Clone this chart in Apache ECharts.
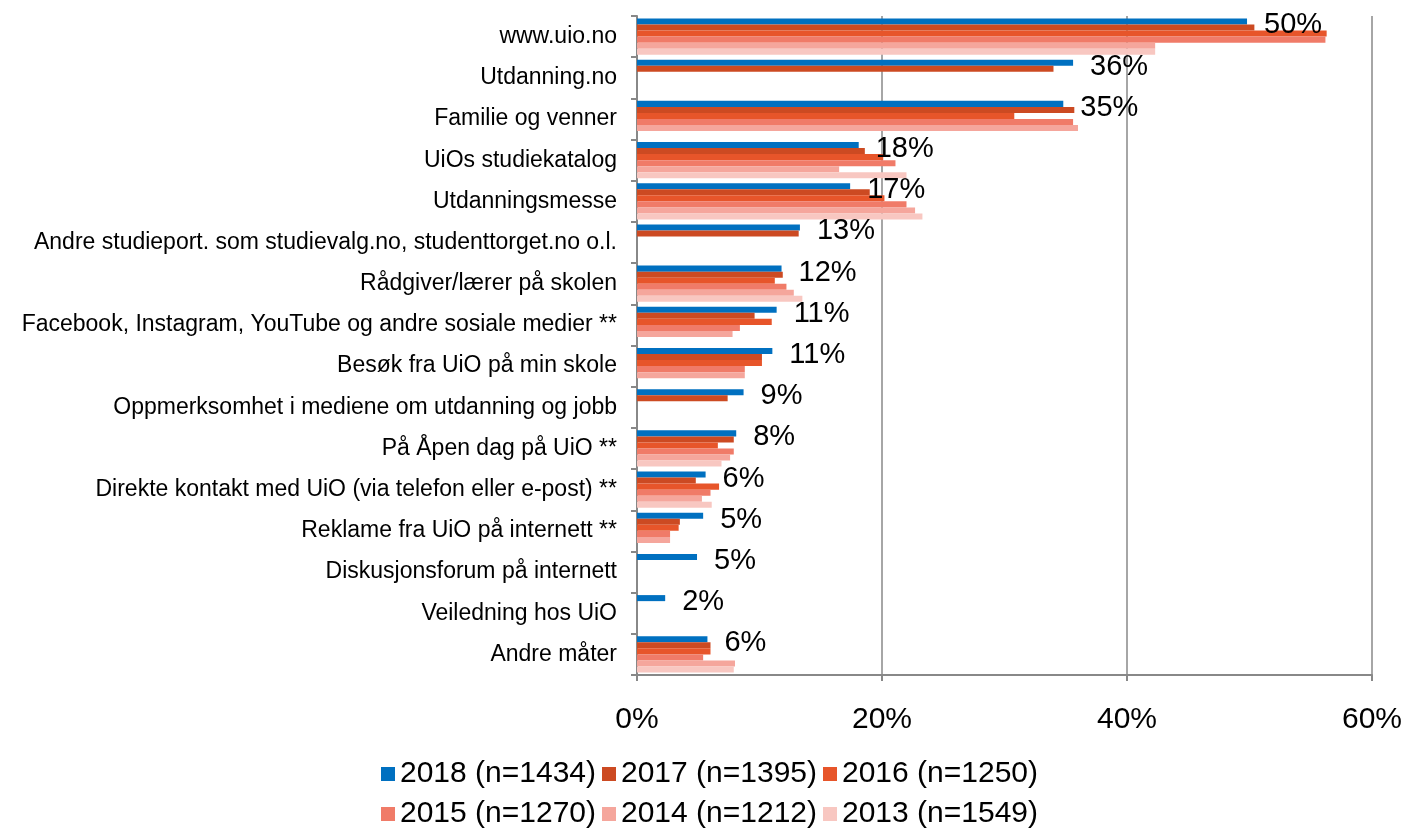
<!DOCTYPE html>
<html lang="no">
<head>
<meta charset="UTF-8">
<title>Informasjonskilder</title>
<script src="https://cdn.jsdelivr.net/npm/echarts@6/dist/echarts.min.js"></script>
<style>
    html, body { margin: 0; padding: 0; background: #fff; }
    #main { width: 1405px; height: 832px; }
</style>
</head>
<body>
<div id="main"></div>
<script>
    // kategorier, ovenfra og ned
    var categories = [
        'www.uio.no',
        'Utdanning.no',
        'Familie og venner',
        'UiOs studiekatalog',
        'Utdanningsmesse',
        'Andre studieport. som studievalg.no, studenttorget.no o.l.',
        'Rådgiver/lærer på skolen',
        'Facebook, Instagram, YouTube og andre sosiale medier **',
        'Besøk fra UiO på min skole',
        'Oppmerksomhet i mediene om utdanning og jobb',
        'På Åpen dag på UiO **',
        'Direkte kontakt med UiO (via telefon eller e-post) **',
        'Reklame fra UiO på internett **',
        'Diskusjonsforum på internett',
        'Veiledning hos UiO',
        'Andre måter'
    ];

    var seriesNames = ['2018 (n=1434)', '2017 (n=1395)', '2016 (n=1250)', '2015 (n=1270)', '2014 (n=1212)', '2013 (n=1549)'];

    // prosent, null = ikke spurt det året
    var v2018 = [49.8, 35.6, 34.8, 18.1, 17.4, 13.3, 11.8, 11.4, 11.05, 8.7, 8.1, 5.6, 5.4, 4.9, 2.3, 5.75];
    var v2017 = [50.4, 34.0, 35.7, 18.6, 19.0, 13.2, 11.9, 9.6, 10.2, 7.4, 7.9, 4.8, 3.5, null, null, 6.0];
    var v2016 = [56.3, null, 30.8, 20.1, 20.2, null, 11.25, 11.0, 10.2, null, 6.6, 6.7, 3.4, null, null, 6.0];
    var v2015 = [56.2, null, 35.6, 21.1, 22.0, null, 12.2, 8.4, 8.8, null, 7.9, 6.0, 2.7, null, null, 5.4];
    var v2014 = [42.3, null, 36.0, 16.5, 22.7, null, 12.8, 7.8, 8.8, null, 7.6, 5.3, 2.7, null, null, 8.0];
    var v2013 = [42.3, null, null, 22.0, 23.3, null, 13.5, null, null, null, 6.9, 6.1, null, null, null, 7.9];

    var xTicks = [0, 20, 40, 60];

    var colors = ['#0070C0', '#CC4A22', '#E7552A', '#F07B68', '#F5A69C', '#F8C7C1'];
    var allValues = [v2018, v2017, v2016, v2015, v2014, v2013];

    var FONT = 'Liberation Sans';

    var chart = echarts.init(document.getElementById('main'), null, { renderer: 'canvas' });

    var series = allValues.map(function (vals, i) {
        var s = {
            name: seriesNames[i],
            type: 'bar',
            data: vals,
            itemStyle: { color: colors[i] },
            barGap: '0%',
            barCategoryGap: '12%',
            animation: false
        };
        if (i === 0) {
            s.label = {
                show: true,
                position: 'right',
                distance: 17,
                offset: [0, 4],
                color: '#000',
                fontFamily: FONT,
                fontSize: 29,
                formatter: function (p) { return Math.round(p.value) + '%'; }
            };
        }
        return s;
    });

    var legendText = { color: '#000', fontFamily: FONT, fontSize: 30 };

    var option = {
        backgroundColor: '#fff',
        animation: false,
        grid: { left: 637, right: 33, top: 16, bottom: 157, containLabel: false },
        legend: [
            {
                data: seriesNames.slice(0, 3),
                left: 376, top: 754,
                itemWidth: 14, itemHeight: 14, itemGap: 6,
                icon: 'rect',
                textStyle: legendText
            },
            {
                data: seriesNames.slice(3),
                left: 376, top: 794,
                itemWidth: 14, itemHeight: 14, itemGap: 6,
                icon: 'rect',
                textStyle: legendText
            }
        ],
        xAxis: {
            type: 'value',
            min: xTicks[0],
            max: xTicks[xTicks.length - 1],
            interval: 20,
            axisLine: { show: true, lineStyle: { color: '#888', width: 2 } },
            axisTick: { show: true, length: 6, lineStyle: { color: '#888', width: 2 } },
            splitLine: { show: true, lineStyle: { color: '#888', width: 1.5 } },
            axisLabel: {
                margin: 30,
                color: '#000',
                fontFamily: FONT,
                fontSize: 30,
                formatter: '{value}%'
            }
        },
        yAxis: {
            type: 'category',
            data: categories,
            inverse: true,
            axisLine: { show: true, lineStyle: { color: '#888', width: 2 } },
            axisTick: { show: true, length: 6, lineStyle: { color: '#888', width: 2 } },
            axisLabel: {
                margin: 20,
                color: '#000',
                fontFamily: FONT,
                fontSize: 23
            }
        },
        series: series
    };

    chart.setOption(option);
</script>
</body>
</html>
